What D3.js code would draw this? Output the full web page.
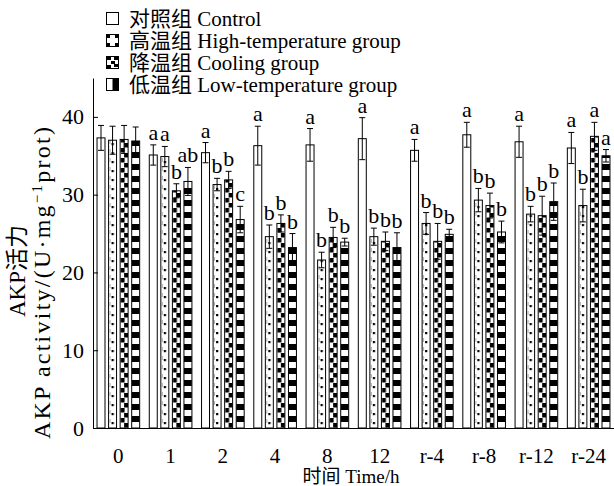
<!DOCTYPE html>
<html>
<head>
<meta charset="utf-8">
<script src="https://cdn.jsdelivr.net/npm/d3@7"></script>
<style>
body { margin: 0; background: #fff; }
text { font-family: "Liberation Serif", "Noto Sans CJK SC", serif; fill: #000; }
</style>
</head>
<body>
<div id="chart"></div>
<script>
const groups = ["0", "1", "2", "4", "8", "12", "r-4", "r-8", "r-12", "r-24"]
const seriesNames = ["对照组 Control", "高温组 High-temperature group", "降温组 Cooling group", "低温组 Low-temperature group"]

const controlValues = [37.3, 35.1, 35.4, 36.3, 36.4, 37.2, 35.7, 37.7, 36.8, 36.0]
const highValues = [37.0, 34.9, 31.3, 24.6, 21.6, 24.6, 26.3, 29.3, 27.5, 28.6]
const coolingValues = [37.1, 30.5, 31.9, 26.3, 24.5, 24.0, 24.0, 28.6, 27.3, 37.5]
const lowValues = [36.9, 31.7, 26.8, 23.2, 23.9, 23.2, 24.9, 25.2, 29.1, 35.0]

const controlErr = [1.6, 1.3, 1.3, 2.5, 2.1, 2.7, 1.4, 1.6, 2.0, 2.0]
const highErr = [1.8, 1.3, 0.8, 1.5, 1.0, 1.1, 1.4, 1.5, 1.0, 2.1]
const coolingErr = [1.8, 0.9, 1.1, 1.1, 1.3, 1.2, 2.3, 1.6, 2.5, 1.8]
const lowErr = [1.8, 1.8, 1.7, 1.8, 0.5, 1.9, 0.65, 1.4, 2.4, 0.8]

const controlLetters = ["", "a", "a", "a", "a", "a", "a", "a", "a", "a"]
const highLetters = ["", "a", "b", "b", "b", "b", "b", "b", "b", "b"]
const coolingLetters = ["", "b", "b", "b", "b", "b", "b", "b", "b", "a"]
const lowLetters = ["", "ab", "c", "b", "b", "b", "b", "b", "b", "a"]

const yTicks = [0, 10, 20, 30, 40]

const values = [controlValues, highValues, coolingValues, lowValues]
const errors = [controlErr, highErr, coolingErr, lowErr]
const letters = [controlLetters, highLetters, coolingLetters, lowLetters]

const width = 614,
height = 486

const svg = d3.select("#chart")
.append("svg")
.attr("width", width)
.attr("height", height)

const x0 = d3.scaleBand()
.domain(groups)
.range([93, 614])
.paddingInner(0.184)
.paddingOuter(0.077)

const x1 = d3.scaleBand()
.domain(d3.range(4))
.range([0, x0.bandwidth()])
.paddingInner(0.31)
.paddingOuter(0)

const y = d3.scaleLinear()
.domain([0, 45])
.range([428, 78])

const bw = x1.bandwidth()

const defs = svg.append("defs")

const makePattern = function(i, h) {
    const p = defs.append("pattern")
    .attr("id", `pat${i}`)
    .attr("patternUnits", "userSpaceOnUse")
    .attr("x", x0(groups[0]) + x1(i))
    .attr("y", y(0))
    .attr("width", x0.step())
    .attr("height", h)
    p.append("rect").attr("width", x0.step()).attr("height", h).attr("fill", "#fff")
    return p
}

// high temperature: dotted
const p1 = makePattern(1, 9)
p1.append("rect").attr("x", bw / 2 - 1).attr("y", 3).attr("width", 2.2).attr("height", 2.2).attr("fill", "#000")
p1.append("rect").attr("x", 1).attr("y", 0).attr("width", 0.8).attr("height", 4).attr("fill", "#999")

// cooling: checker blocks
const p2 = makePattern(2, 10)
p2.append("rect").attr("x", 0.5).attr("y", 0).attr("width", bw / 2).attr("height", 4.5).attr("fill", "#000")
p2.append("rect").attr("x", bw / 2).attr("y", 5).attr("width", bw / 2).attr("height", 4.5).attr("fill", "#000")

// low temperature: horizontal bands
const p3 = makePattern(3, 12)
p3.append("rect").attr("x", 0).attr("y", 0).attr("width", bw).attr("height", 6).attr("fill", "#000")

const fills = ["#fff", "url(#pat1)", "url(#pat2)", "url(#pat3)"]

const barData = []
groups.forEach((g, gi) => {
    values.forEach((v, si) => {
        barData.push({ group: g, s: si, value: v[gi], err: errors[si][gi], letter: letters[si][gi] })
    })
})

svg.selectAll("rect.bar")
.data(barData)
.join("rect")
.attr("class", "bar")
.attr("x", d => x0(d.group) + x1(d.s))
.attr("y", d => y(d.value))
.attr("width", bw)
.attr("height", d => y(0) - y(d.value))
.attr("fill", d => fills[d.s])
.attr("stroke", "#000")
.attr("stroke-width", 1)

const errG = svg.append("g")
.attr("stroke", "#000")
.attr("stroke-width", 1)

barData.forEach(d => {
    const cx = x0(d.group) + x1(d.s) + bw / 2
    errG.append("line").attr("x1", cx).attr("x2", cx).attr("y1", y(d.value - d.err)).attr("y2", y(d.value + d.err))
    errG.append("line").attr("x1", cx - 3).attr("x2", cx + 3).attr("y1", y(d.value + d.err)).attr("y2", y(d.value + d.err))
    errG.append("line").attr("x1", cx - 3).attr("x2", cx + 3).attr("y1", y(d.value - d.err)).attr("y2", y(d.value - d.err))
})

svg.selectAll("text.sig")
.data(barData.filter(d => d.letter))
.join("text")
.attr("class", "sig")
.attr("x", d => x0(d.group) + x1(d.s) + bw / 2)
.attr("y", d => y(d.value + d.err) - 5)
.attr("text-anchor", "middle")
.style("font-size", "22px")
.text(d => d.letter)

// axes
const yAxis = svg.append("g")
.attr("transform", "translate(93,0)")
.call(d3.axisLeft(y).tickValues(yTicks).tickSizeInner(-5).tickSizeOuter(0).tickPadding(9))

yAxis.selectAll("text").style("font-size", "22px").style("font-family", "Liberation Serif")
yAxis.selectAll("line, path").attr("stroke", "#000")

const xAxis = svg.append("g")
.attr("transform", "translate(0,428)")
.call(d3.axisBottom(x0).tickSize(0).tickPadding(20))

xAxis.selectAll("text").style("font-size", "21px").style("font-family", "Liberation Serif")
xAxis.select("path").attr("stroke", "#000")

svg.append("text")
.attr("x", 351)
.attr("y", 483)
.attr("text-anchor", "middle")
.style("font-size", "19px")
.text("时间 Time/h")

svg.append("text")
.attr("transform", "translate(25,271) rotate(-90)")
.attr("text-anchor", "middle")
.style("font-size", "23px")
.text("AKP活力")

const yLabel = svg.append("text")
.attr("transform", "translate(50,282) rotate(-90)")
.attr("text-anchor", "middle")
.style("font-size", "24px")

yLabel.append("tspan").text("AKP activity/(U·mg")
yLabel.append("tspan").attr("dy", -8).style("font-size", "15px").text("−1")
yLabel.append("tspan").attr("dy", 8).text("prot)")

// widen the long axis title a little toward the reference span
const labelLen = yLabel.node().getComputedTextLength()
yLabel.style("letter-spacing", `${Math.max(0, (312 - labelLen) / 24)}px`)

// legend
const legend = svg.append("g")

const legendRow = legend.selectAll("g")
.data(seriesNames)
.join("g")
.attr("transform", (d, i) => `translate(106,${12 + i * 22})`)

legendRow.append("rect")
.attr("x", 0.5)
.attr("y", 0.5)
.attr("width", 12)
.attr("height", 12)
.attr("fill", "#fff")
.attr("stroke", "#000")

legendRow.append("text")
.attr("x", 23)
.attr("y", 14)
.style("font-size", "21px")
.text(d => d)

const icon1 = legendRow.filter((d, i) => i === 1)
;[[1, 1], [9, 1], [1, 9], [9, 9]].forEach(c => {
    icon1.append("rect").attr("x", c[0]).attr("y", c[1]).attr("width", 3).attr("height", 3).attr("fill", "#000")
})

const icon2 = legendRow.filter((d, i) => i === 2)
;[[1, 1], [8, 1], [5, 5], [8, 8], [1, 9]].forEach(c => {
    icon2.append("rect").attr("x", c[0]).attr("y", c[1]).attr("width", 4).attr("height", 3).attr("fill", "#000")
})

legendRow.filter((d, i) => i === 3)
.append("rect")
.attr("x", 6.5)
.attr("y", 1)
.attr("width", 5.5)
.attr("height", 11)
.attr("fill", "#000")
</script>
</body>
</html>
